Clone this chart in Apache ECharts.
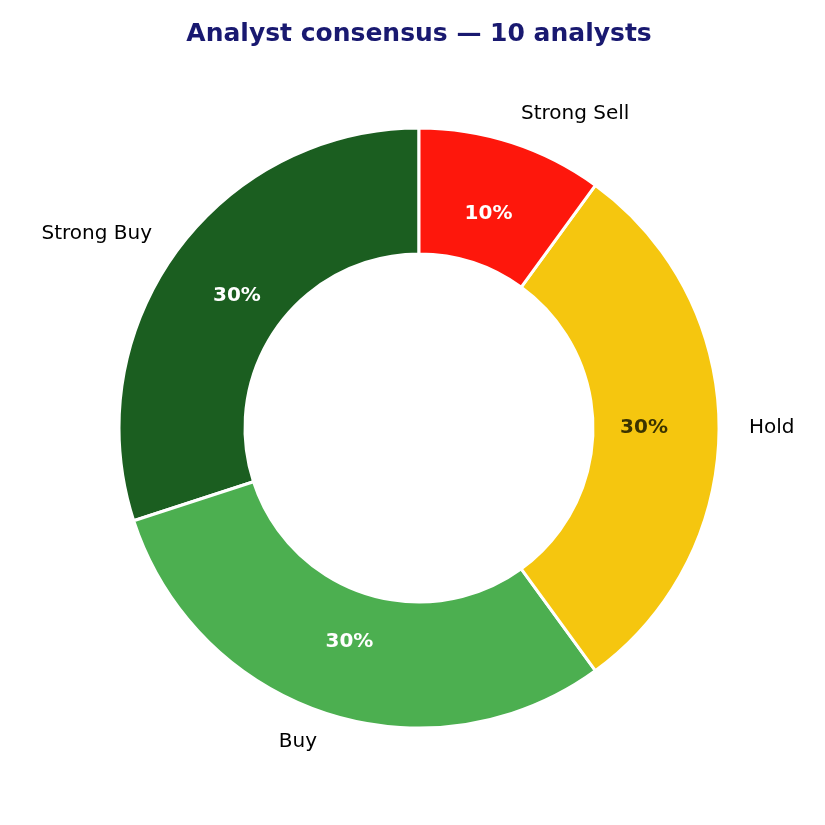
<!DOCTYPE html>
<html>
<head>
<meta charset="utf-8">
<script src="https://cdn.jsdelivr.net/npm/echarts@6/dist/echarts.min.js"></script>
<style>
  html, body { margin: 0; padding: 0; background: #fff; }
  #main { width: 825px; height: 825px; }
</style>
</head>
<body>
<div id="main"></div>
<script>
var categories = ['Strong Buy', 'Buy', 'Hold', 'Strong Sell']
var counts = [3, 3, 3, 1]
var sliceColors = ['#1b5e20', '#4caf50', '#f5c60f', '#fe170c']
var pctColors = ['#ffffff', '#ffffff', '#3a3300', '#ffffff']

var myChart = echarts.init(document.getElementById('main'))

var ringData = []
var pctData = []
for (var i = 0; i < categories.length; i++) {
    ringData.push({
        name: categories[i],
        value: counts[i],
        itemStyle: { color: sliceColors[i] }
    })
    pctData.push({
        name: categories[i],
        value: counts[i],
        label: { color: pctColors[i] }
    })
}

var font = 'DejaVu Sans'

option = {
    backgroundColor: '#ffffff',
    animation: false,
    title: {
        text: 'Analyst consensus \u2014 10 analysts',
        left: 414,
        textAlign: 'center',
        top: 17,
        textStyle: {
            fontFamily: font,
            fontSize: 25,
            fontWeight: 'bold',
            color: '#191970'
        }
    },
    series: [
        {
            type: 'pie',
            center: [419, 428],
            radius: [174, 300],
            startAngle: 90,
            clockwise: false,
            avoidLabelOverlap: false,
            itemStyle: { borderColor: '#ffffff', borderWidth: 3 },
            label: {
                show: true,
                position: 'outside',
                formatter: '{b}',
                fontFamily: font,
                fontSize: 20,
                color: '#000000',
                distanceToLabelLine: 0
            },
            labelLine: { show: false, length: 30, length2: 0 },
            emphasis: { disabled: true },
            data: ringData
        },
        {
            type: 'pie',
            center: [419, 428],
            radius: [177, 267],
            startAngle: 90,
            clockwise: false,
            silent: true,
            itemStyle: { color: 'rgba(0,0,0,0)', borderWidth: 0 },
            label: {
                show: true,
                position: 'inside',
                formatter: function (p) { return Math.round(p.percent) + '%' },
                fontFamily: font,
                fontSize: 20,
                fontWeight: 'bold'
            },
            labelLine: { show: false },
            emphasis: { disabled: true },
            data: pctData
        }
    ]
}
myChart.setOption(option)
</script>
</body>
</html>
